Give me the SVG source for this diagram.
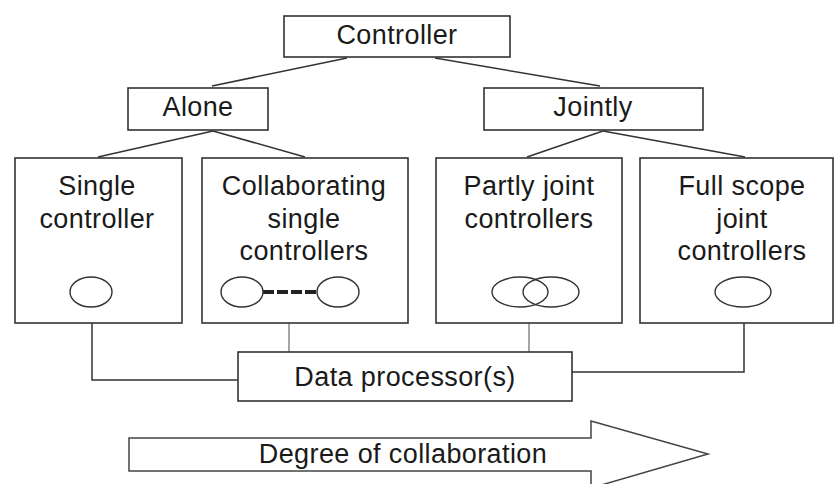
<svg xmlns="http://www.w3.org/2000/svg" width="834" height="484" viewBox="0 0 834 484">
<style>
.box{fill:#fff;stroke:#333;stroke-width:1.6}
.t{font-family:"Liberation Sans",Arial,sans-serif;font-size:27px;letter-spacing:0.4px;fill:#1a1a1a;text-anchor:middle}
.c{fill:none;stroke:#333;stroke-width:1.5}
.cg{fill:none;stroke:#888;stroke-width:1.5}
.e{fill:#fff;stroke:#333;stroke-width:1.4}
</style>
<rect width="834" height="484" fill="#fff"/>
<g id="connectors">
<line class="c" x1="347" y1="58" x2="212" y2="86"/>
<line class="c" x1="435" y1="58" x2="600" y2="86"/>
<line class="c" x1="213" y1="131" x2="98" y2="157"/>
<line class="c" x1="213" y1="131" x2="305" y2="157"/>
<line class="c" x1="603" y1="131" x2="527" y2="157"/>
<line class="c" x1="603" y1="131" x2="745" y2="157"/>
<polyline class="c" points="92,323 92,380 238,380"/>
<line class="cg" x1="289" y1="323" x2="289" y2="352"/>
<line class="cg" x1="529" y1="323" x2="529" y2="352"/>
<polyline class="c" points="744,323 744,372 572,372"/>
</g>
<g id="controller">
<rect class="box" x="284" y="16" width="226" height="41"/>
<text class="t" x="397" y="44">Controller</text>
</g>
<g id="alone">
<rect class="box" x="128" y="88" width="140" height="42"/>
<text class="t" x="198" y="116">Alone</text>
</g>
<g id="jointly">
<rect class="box" x="484" y="88" width="219" height="42"/>
<text class="t" x="593" y="116">Jointly</text>
</g>
<g id="single">
<rect class="box" x="15" y="158" width="167" height="165"/>
<text class="t" x="97" y="195">Single</text>
<text class="t" x="97" y="228">controller</text>
<ellipse class="e" cx="91" cy="292" rx="21" ry="15"/>
</g>
<g id="collaborating">
<rect class="box" x="202" y="158" width="206" height="165"/>
<text class="t" x="304" y="195">Collaborating</text>
<text class="t" x="304" y="228">single</text>
<text class="t" x="304" y="260">controllers</text>
<line x1="263" y1="292" x2="317" y2="292" stroke="#222" stroke-width="4" stroke-dasharray="11 3"/>
<ellipse class="e" cx="242" cy="292" rx="21" ry="15"/>
<ellipse class="e" cx="338" cy="292" rx="21" ry="15"/>
</g>
<g id="partly">
<rect class="box" x="436" y="158" width="186" height="165"/>
<text class="t" x="529" y="195">Partly joint</text>
<text class="t" x="529" y="228">controllers</text>
<ellipse class="e" cx="520" cy="292" rx="28" ry="15" fill="none" style="fill:none"/>
<ellipse class="e" cx="551" cy="292" rx="28" ry="15" style="fill:none"/>
</g>
<g id="fullscope">
<rect class="box" x="640" y="158" width="193" height="165"/>
<text class="t" x="742" y="195">Full scope</text>
<text class="t" x="742" y="228">joint</text>
<text class="t" x="742" y="260">controllers</text>
<ellipse class="e" cx="743" cy="292" rx="28" ry="15"/>
</g>
<g id="processor">
<rect class="box" x="238" y="352" width="334" height="49"/>
<text class="t" x="405" y="386">Data processor(s)</text>
</g>
<g id="degree">
<polygon points="129,438 591,438 591,421 708,454 591,488 591,471 129,471" fill="#fff" stroke="#444" stroke-width="1.5"/>
<text class="t" x="403" y="463">Degree of collaboration</text>
</g>
</svg>
